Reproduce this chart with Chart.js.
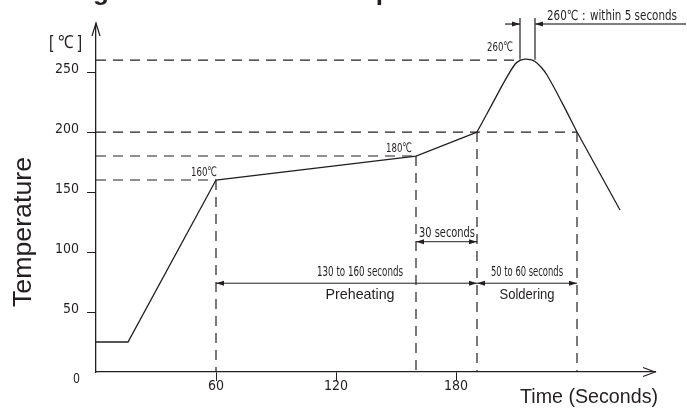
<!DOCTYPE html>
<html>
<head>
<meta charset="utf-8">
<script src="https://cdn.jsdelivr.net/npm/chart.js@4.4.1/dist/chart.umd.min.js"></script>
<style>
  html, body { margin: 0; padding: 0; background: #fff; }
  #wrap { width: 687px; height: 410px; }
</style>
</head>
<body>
<div id="wrap"><canvas id="profile" width="687" height="410"></canvas></div>
<script>
// reflow profile (time in s, temperature in degC)
const riseTime = [0, 16, 60, 160, 190.5];
const riseTemp = [25, 25, 160, 180, 200];
const peakTime = [190.5, 198, 204.5, 209.5, 212, 214.5, 217, 219.5, 222.5, 225.5, 233, 240.5];
const peakTemp = [200, 223, 243, 256.5, 259.6, 260.8, 260.4, 258.8, 254.2, 247.5, 224.5, 200];
const fallTime = [240.5, 262];
const fallTemp = [200, 135];

const xTicks = [60, 120, 180];
const yTicks = [0, 50, 100, 150, 200, 250];

// dashed guides: level lines (temp + time they run to), drop lines (time + temp they start at)
const levelTemps = [260, 200, 180, 160];
const levelEnds = [212, 240.5, 160, 60];
const dropTimes = [60, 160, 190.5, 240.5];
const dropTemps = [160, 180, 200, 200];

// time spans marked with arrows
const spanStart = [60, 190.5, 160];
const spanEnd = [190.5, 240.5, 190.5];
const spanLabels = ['130 to 160 seconds', '50 to 60 seconds', '30 seconds'];
const spanNames = ['Preheating', 'Soldering', ''];
const peakHold = [212, 219.5];

const ink = '#231f20';
const sans = "'Liberation Sans', Arial, 'Helvetica', sans-serif";
const narrow = "'Liberation Sans Narrow', 'Arial Narrow', 'DejaVu Sans Condensed', sans-serif";

const toPts = (xs, ys) => xs.map((x, i) => ({ x: x, y: ys[i] }));

const sketch = {
    id: 'sketch',
    afterDraw(chart) {
        const ctx = chart.ctx;
        const X = v => chart.scales.x.getPixelForValue(v);
        const Y = v => chart.scales.y.getPixelForValue(v);
        const area = chart.chartArea;

        function seg(x1, y1, x2, y2) {
            ctx.beginPath(); ctx.moveTo(x1, y1); ctx.lineTo(x2, y2); ctx.stroke();
        }
        function head(x, y, dir) {
            ctx.beginPath();
            ctx.moveTo(x, y);
            ctx.lineTo(x - dir * 8, y - 2.5);
            ctx.lineTo(x - dir * 8, y + 2.5);
            ctx.closePath(); ctx.fill();
        }
        function text(str, x, y, size, o) {
            o = Object.assign({ align: 'left', family: narrow, weight: '', width: null }, o || {});
            ctx.save();
            ctx.font = `${o.weight} ${size}px ${o.family}`;
            ctx.textAlign = 'left'; ctx.textBaseline = 'alphabetic';
            const w = ctx.measureText(str).width;
            const k = o.width ? o.width / w : 1;
            const d = w * k;
            const left = o.align === 'center' ? x - d / 2 : o.align === 'right' ? x - d : x;
            ctx.translate(left, y); ctx.scale(k, 1);
            ctx.fillText(str, 0, 0);
            ctx.restore();
        }

        ctx.save();
        ctx.strokeStyle = ink; ctx.fillStyle = ink;

        // dashed guides
        ctx.lineWidth = 1.2;
        ctx.setLineDash([10, 7]);
        levelTemps.forEach((t, i) => seg(X(0), Y(t), X(levelEnds[i]), Y(t)));
        dropTimes.forEach((t, i) => seg(X(t), Y(dropTemps[i]), X(t), Y(0)));
        ctx.setLineDash([]);

        // span arrows
        const spanLevel = [74, 74, 108.6];
        const spanText = [132, 215.5, 175.5];
        ctx.lineWidth = 1;
        spanStart.forEach((s, i) => {
            const y = Y(spanLevel[i]);
            seg(X(s), y, X(spanEnd[i]), y);
            head(X(s), y, -1);
            head(X(spanEnd[i]), y, 1);
            const cx = X(spanText[i]);
            const lw = i === 2 ? 56 : (i === 0 ? 86 : 72);
            text(spanLabels[i], cx, y - (i === 2 ? 5 : 7), 14, { align: 'center', width: lw });
            if (spanNames[i]) text(spanNames[i], cx, y + 16, 15, { align: 'center', family: sans, width: i === 0 ? 69 : 55 });
        });

        // peak hold marker
        const hy = Y(290);
        ctx.lineWidth = 1.2;
        peakHold.forEach(t => seg(X(t), Y(295), X(t), Y(260.3)));
        seg(X(peakHold[0]) - 15, hy, X(peakHold[0]), hy);
        head(X(peakHold[0]), hy, 1);
        ctx.strokeStyle = '#555'; ctx.lineWidth = 1.6;
        seg(X(peakHold[1]), hy, chart.width - 1, hy);
        ctx.strokeStyle = ink;
        head(X(peakHold[1]), hy, -1);
        text('260℃：within 5 seconds', X(peakHold[1]) + 12, hy - 4, 14, { width: 130 });

        // point labels
        text('160℃', X(60) + 1, Y(160) - 4, 13, { align: 'right', width: 26 });
        text('180℃', X(160) - 4, Y(180) - 4, 13, { align: 'right', width: 26 });
        text('260℃', X(peakHold[0]) - 7, Y(260) - 9, 13, { align: 'right', width: 26 });

        // axis arrows
        ctx.lineWidth = 1.2;
        ctx.beginPath();
        ctx.moveTo(area.left - 4, area.top + 11); ctx.lineTo(area.left, area.top - 2); ctx.lineTo(area.left + 4, area.top + 11);
        ctx.stroke();
        seg(area.left, area.top - 2, area.left, area.top + 2);
        ctx.beginPath();
        ctx.moveTo(area.right - 12, area.bottom - 4.5); ctx.lineTo(area.right, area.bottom); ctx.lineTo(area.right - 12, area.bottom + 4.5);
        ctx.stroke();

        // axis titles and origin label
        text('0', area.left - 16, area.bottom + 11, 14, { align: 'right', width: 7 });
        text('[ ℃ ]', area.left - 14, 48, 18, { align: 'right', family: sans, width: 33 });
        text('Time (Seconds)', 520, 403, 20, { family: sans, width: 138 });
        ctx.save();
        ctx.translate(31, 232);
        ctx.rotate(-Math.PI / 2);
        text('Temperature', 0, 0, 25, { align: 'center', family: sans, width: 150 });
        ctx.restore();

        // title, cut off by the top edge so only descenders show
        ctx.font = `bold 26px ${sans}`;
        const lead = ctx.measureText('Solderin').width;
        text('Soldering Heat Resistance Temperature Profile', 93 - lead, 0, 26, { family: sans, weight: 'bold' });

        ctx.restore();
    }
};

const lineStyle = { borderColor: ink, borderWidth: 1.3, pointRadius: 0, showLine: true, fill: false };

new Chart(document.getElementById('profile'), {
    type: 'scatter',
    data: {
        datasets: [
            Object.assign({ data: toPts(riseTime, riseTemp), tension: 0 }, lineStyle),
            Object.assign({ data: toPts(peakTime, peakTemp), tension: 0.4 }, lineStyle),
            Object.assign({ data: toPts(fallTime, fallTemp), tension: 0 }, lineStyle)
        ]
    },
    options: {
        responsive: false,
        animation: false,
        layout: { padding: { top: 25, right: 32, left: 0, bottom: 0 } },
        plugins: { legend: { display: false }, tooltip: { enabled: false } },
        scales: {
            x: {
                type: 'linear', min: 0, max: 279.5,
                afterBuildTicks: s => { s.ticks = xTicks.map(v => ({ value: v })); },
                afterFit: s => { s.height = 38; },
                grid: { drawOnChartArea: false, drawTicks: true, tickLength: 9, tickColor: ink, tickWidth: 1 },
                border: { display: true, color: ink, width: 1.3 },
                ticks: { color: ink, font: { family: narrow, size: 14 }, padding: -3, maxRotation: 0 }
            },
            y: {
                type: 'linear', min: 0, max: 289.2,
                afterBuildTicks: s => { s.ticks = yTicks.map(v => ({ value: v })); },
                afterFit: s => { s.width = 96; },
                grid: {
                    drawOnChartArea: false, drawTicks: true, tickLength: 9, tickWidth: 1,
                    tickColor: c => (c.tick && c.tick.value === 0) ? 'rgba(0,0,0,0)' : ink
                },
                border: { display: true, color: ink, width: 1.3 },
                ticks: {
                    color: ink, font: { family: narrow, size: 14 }, padding: 8, labelOffset: -3,
                    callback: v => v === 0 ? '' : v
                }
            }
        }
    },
    plugins: [sketch]
});
</script>
</body>
</html>
